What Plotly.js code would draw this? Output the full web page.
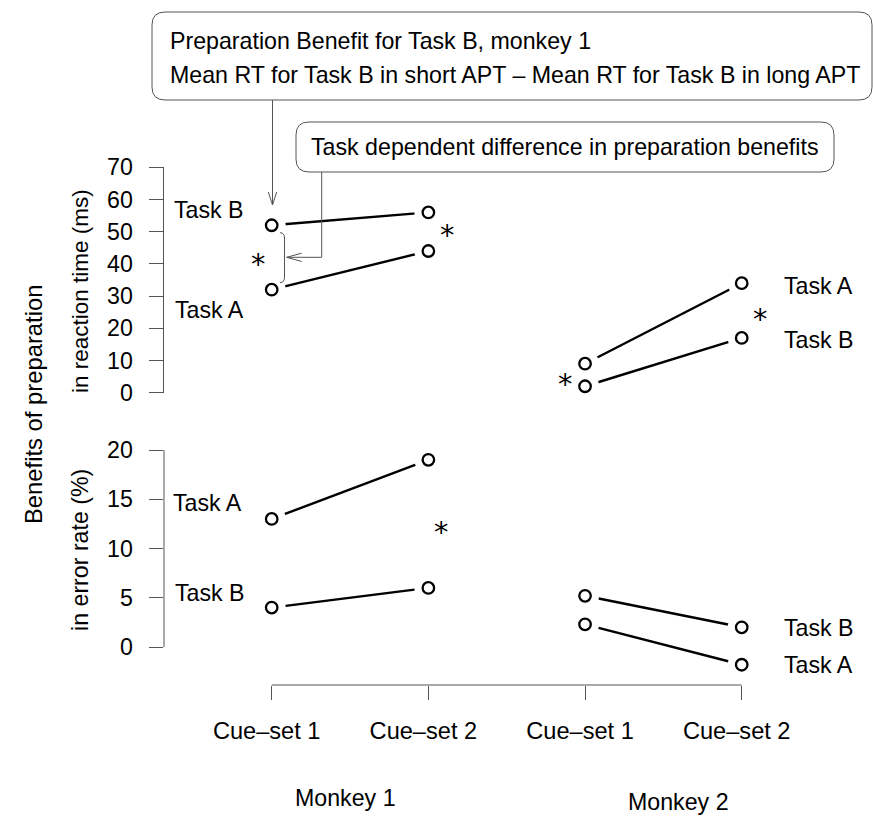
<!DOCTYPE html>
<html>
<head>
<meta charset="utf-8">
<script src="https://cdn.plot.ly/plotly-3.0.1.min.js"></script>
<style>html,body{margin:0;padding:0;background:#fff;}</style>
</head>
<body>
<div id="chart" style="width:873px;height:816px;"></div>
<script>
// ---------------- data ----------------
const cuePositions = [1, 2, 3, 4];
const cueLabels = ['Cue–set 1', 'Cue–set 2', 'Cue–set 1', 'Cue–set 2'];
const monkey1X = [1, 2];
const monkey2X = [3, 4];
const monkeyLabels = ['Monkey 1', 'Monkey 2'];

// Benefits of preparation in reaction time (ms)
const rtMonkey1TaskB = [52, 56];
const rtMonkey1TaskA = [32, 44];
const rtMonkey2TaskA = [9, 34];
const rtMonkey2TaskB = [2, 17];

// Benefits of preparation in error rate (%)
const erMonkey1TaskA = [13, 19];
const erMonkey1TaskB = [4, 6];
const erMonkey2TaskB = [5.2, 2];
const erMonkey2TaskA = [2.3, -1.8];

const rtTicks = [0, 10, 20, 30, 40, 50, 60, 70];
const erTicks = [0, 5, 10, 15, 20];

// ---------------- layout helpers ----------------
const W = 873, H = 816;
const px = x => x / W;
const py = y => 1 - y / H;
const FONT = '"Liberation Sans", Arial, Helvetica, sans-serif';
const FS = 23.2;
const AX = '#555';

const series = [
  [monkey1X, rtMonkey1TaskB, 'y'], [monkey1X, rtMonkey1TaskA, 'y'],
  [monkey2X, rtMonkey2TaskA, 'y'], [monkey2X, rtMonkey2TaskB, 'y'],
  [monkey1X, erMonkey1TaskA, 'y2'], [monkey1X, erMonkey1TaskB, 'y2'],
  [monkey2X, erMonkey2TaskB, 'y2'], [monkey2X, erMonkey2TaskA, 'y2']
];

const traces = [];
series.forEach(([xs, ys, ya]) => {
  traces.push({x: xs, y: ys, yaxis: ya, xaxis: 'x', mode: 'lines',
    line: {color: '#000', width: 2.4}, hoverinfo: 'skip', showlegend: false});
});
series.forEach(([xs, ys, ya]) => {
  traces.push({x: xs, y: ys, yaxis: ya, xaxis: 'x', mode: 'markers', cliponaxis: false,
    marker: {symbol: 'circle', size: 28, color: '#fff', line: {width: 0}},
    hoverinfo: 'skip', showlegend: false});
});
series.forEach(([xs, ys, ya]) => {
  traces.push({x: xs, y: ys, yaxis: ya, xaxis: 'x', mode: 'markers', cliponaxis: false,
    marker: {symbol: 'circle-open', size: 11.5, color: '#000', line: {width: 2.3, color: '#000'}},
    showlegend: false});
});

// rounded rectangle path in paper coords from pixel coords
function roundRect(x0, y0, x1, y1, r) {
  const P = (x, y) => px(x) + ',' + py(y);
  return 'M' + P(x0 + r, y0) + ' L' + P(x1 - r, y0) + ' Q' + P(x1, y0) + ' ' + P(x1, y0 + r) +
    ' L' + P(x1, y1 - r) + ' Q' + P(x1, y1) + ' ' + P(x1 - r, y1) +
    ' L' + P(x0 + r, y1) + ' Q' + P(x0, y1) + ' ' + P(x0, y1 - r) +
    ' L' + P(x0, y0 + r) + ' Q' + P(x0, y0) + ' ' + P(x0 + r, y0) + ' Z';
}
function polyline(pts) {
  return pts.map((p, i) => (i ? 'L' : 'M') + px(p[0]) + ',' + py(p[1])).join(' ');
}

const shapes = [
  {type: 'path', xref: 'paper', yref: 'paper', path: roundRect(152, 12, 872, 100, 13),
    line: {color: AX, width: 1}},
  {type: 'path', xref: 'paper', yref: 'paper', path: roundRect(296, 122, 834, 172, 13),
    line: {color: AX, width: 1}},
  // arrow from box 1
  {type: 'path', xref: 'paper', yref: 'paper', path: polyline([[272.5, 100], [272.5, 205]]),
    line: {color: AX, width: 1}},
  {type: 'path', xref: 'paper', yref: 'paper', path: polyline([[268.3, 192], [272.5, 205], [276.7, 192]]),
    line: {color: AX, width: 1}},
  // arrow from box 2
  {type: 'path', xref: 'paper', yref: 'paper', path: polyline([[321.7, 172], [321.7, 257.3], [286.7, 257.3]]),
    line: {color: AX, width: 1}},
  {type: 'path', xref: 'paper', yref: 'paper', path: polyline([[301.7, 253.2], [286.7, 257.3], [301.7, 261.5]]),
    line: {color: AX, width: 1}},
  // brace
  {type: 'path', xref: 'paper', yref: 'paper',
    path: 'M' + px(280) + ',' + py(232.7) + ' Q' + px(284.5) + ',' + py(232.7) + ' ' + px(284.5) + ',' + py(238) +
      ' L' + px(284.5) + ',' + py(277) + ' Q' + px(284.5) + ',' + py(282.7) + ' ' + px(280) + ',' + py(282.7),
    line: {color: AX, width: 1}},
  // x axis line (spans the four conditions)
  {type: 'line', xref: 'x', yref: 'paper', x0: cuePositions[0], x1: cuePositions[3], y0: py(685), y1: py(685),
    line: {color: AX, width: 1}},
  // error-rate axis line (0..20)
  {type: 'line', xref: 'paper', yref: 'y2', x0: px(164), x1: px(164), y0: erTicks[0], y1: erTicks[erTicks.length - 1],
    line: {color: AX, width: 1}}
];

function txt(text, x, y, opts) {
  return Object.assign({text: text, x: px(x), y: py(y), xref: 'paper', yref: 'paper',
    showarrow: false, xanchor: 'center', yanchor: 'middle',
    font: {family: FONT, size: FS, color: '#000'}}, opts || {});
}
const AS = 36;
function star(x, y) {
  return txt('*', x, y + 0.17 * AS, {font: {family: '"DejaVu Sans", sans-serif', size: AS * 0.8, color: '#000'}});
}
// y tick labels placed at their axis values
function tickLabel(v, axisRef) {
  return {text: String(v), x: px(135), y: v, xref: 'paper', yref: axisRef,
    showarrow: false, xanchor: 'right', yanchor: 'middle',
    font: {family: FONT, size: FS, color: '#000'}};
}

const annotations = [
  txt('Preparation Benefit for Task B, monkey 1', 168, 41, {xanchor: 'left'}),
  txt('Mean RT for Task B in short APT – Mean RT for Task B in long APT', 168, 75, {xanchor: 'left'}),
  txt('Task dependent difference in preparation benefits', 309, 147, {xanchor: 'left'}),
  txt('Task B', 172, 210, {xanchor: 'left'}),
  txt('Task A', 173, 310, {xanchor: 'left'}),
  txt('Task A', 171, 503, {xanchor: 'left'}),
  txt('Task B', 173, 593, {xanchor: 'left'}),
  txt('Task A', 782, 285.5, {xanchor: 'left'}),
  txt('Task B', 782, 339.5, {xanchor: 'left'}),
  txt('Task B', 782, 627.5, {xanchor: 'left'}),
  txt('Task A', 782, 665, {xanchor: 'left'}),
  txt('Benefits of preparation', 33, 405, {textangle: -90, font: {family: FONT, size: 23.8, color: '#000'}}),
  txt('in reaction time (ms)', 80, 291, {textangle: -90, font: {family: FONT, size: 22.5, color: '#000'}}),
  txt('in error rate (%)', 80, 550, {textangle: -90}),
  txt(monkeyLabels[0], 345.8, 797.5),
  txt(monkeyLabels[1], 678.3, 802),
  star(258.3, 258.3), star(447.3, 229), star(760, 312.7), star(565, 378.3), star(441, 525.7)
].concat(rtTicks.map(v => tickLabel(v, 'y')), erTicks.map(v => tickLabel(v, 'y2')));

const layout = {
  width: W, height: H,
  margin: {l: 0, r: 0, t: 0, b: 0, pad: 0},
  paper_bgcolor: '#fff', plot_bgcolor: 'rgba(0,0,0,0)',
  font: {family: FONT, size: FS, color: '#000'},
  showlegend: false,
  xaxis: {
    domain: [px(164), px(860)], range: [0.3126, 4.755], anchor: 'y2',
    tickmode: 'array', tickvals: cuePositions, ticktext: cueLabels,
    ticks: 'outside', ticklen: 14, tickwidth: 1, tickcolor: AX,
    showline: false, showgrid: false, zeroline: false,
    tickfont: {family: FONT, size: 23.6, color: '#000'}, ticklabelstandoff: 11, ticklabelshift: -5
  },
  yaxis: {
    domain: [py(392.7), py(167.3)], range: [0, 70], anchor: 'x',
    tickmode: 'array', tickvals: rtTicks, showticklabels: false,
    ticks: 'outside', ticklen: 14, tickwidth: 1, tickcolor: AX,
    showline: true, linecolor: AX, linewidth: 1,
    showgrid: false, zeroline: false
  },
  yaxis2: {
    domain: [py(685), py(450)], range: [-3.858, 20], anchor: 'x',
    tickmode: 'array', tickvals: erTicks, showticklabels: false,
    ticks: 'outside', ticklen: 14, tickwidth: 1, tickcolor: AX,
    showline: false, showgrid: false, zeroline: false
  },
  shapes: shapes,
  annotations: annotations
};

Plotly.newPlot('chart', traces, layout, {displayModeBar: false, staticPlot: true});
</script>
</body>
</html>
